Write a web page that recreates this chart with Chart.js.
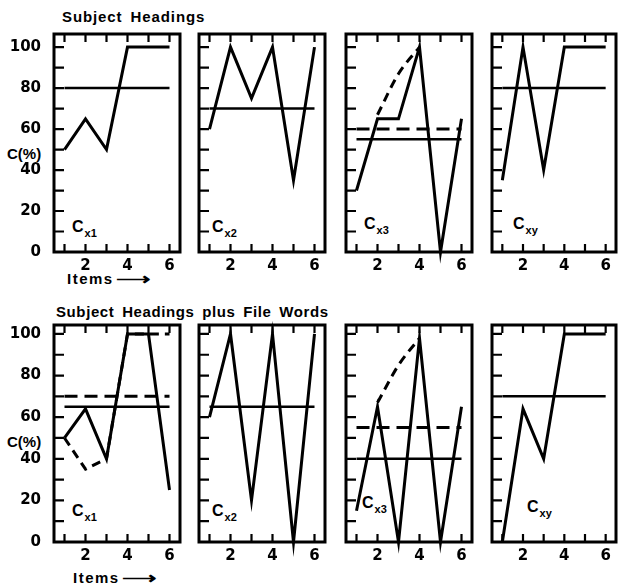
<!DOCTYPE html>
<html><head><meta charset="utf-8">
<script src="https://cdn.jsdelivr.net/npm/chart.js@4.4.0/dist/chart.umd.min.js"></script>
<style>
html,body{margin:0;padding:0;background:#fff;}
body{width:618px;height:585px;position:relative;overflow:hidden;font-family:"Liberation Sans",Arial,sans-serif;font-weight:bold;color:#000;}
.cw{position:absolute;}
.t{position:absolute;white-space:nowrap;font-weight:bold;line-height:1;}
.title{font-size:15px;letter-spacing:0.9px;word-spacing:3px;}
.lab{font-size:16px;}
.lab sub{font-size:11px;vertical-align:-5px;margin-left:1px;}
.cp{font-size:15px;}
.items{font-size:15px;letter-spacing:1.5px;}
.arr{display:inline-block;transform:scaleX(1.5);transform-origin:left center;font-size:16px;margin-left:2px;}
</style></head><body>
<div class="t title" style="left:62px;top:9px">Subject Headings</div>
<div class="t title" style="left:56px;top:304px;letter-spacing:0.6px">Subject Headings plus File Words</div>
<div class="t cp" style="left:7px;top:146px">C(%)</div>
<div class="t cp" style="left:7px;top:434px">C(%)</div>
<div class="t items" style="left:67px;top:271px">Items<span class="arr">⟶</span></div>
<div class="t items" style="left:73px;top:570px">Items<span class="arr">⟶</span></div>

<div class="t lab" style="left:72px;top:219px">C<sub>x1</sub></div>
<div class="t lab" style="left:212px;top:219px">C<sub>x2</sub></div>
<div class="t lab" style="left:364px;top:216px">C<sub>x3</sub></div>
<div class="t lab" style="left:513px;top:216px">C<sub>xy</sub></div>
<div class="t lab" style="left:72px;top:503px">C<sub>x1</sub></div>
<div class="t lab" style="left:212px;top:503px">C<sub>x2</sub></div>
<div class="t lab" style="left:362px;top:495px">C<sub>x3</sub></div>
<div class="t lab" style="left:527px;top:499px">C<sub>xy</sub></div>

<script>
// ---- data ----
const items = [1, 2, 3, 4, 5, 6];
const xTickLabels = [2, 4, 6];
const yTickLabels = [0, 20, 40, 60, 80, 100];
const xMinorTicks = [1, 2, 3, 4, 5, 6];
const yMinorTicks = [10, 20, 30, 40, 50, 60, 70, 80, 90, 100];

// Subject Headings
const shCx1 = [50, 65, 50, 100, 100, 100];
const shCx1Mean = 80;
const shCx2 = [60, 100, 75, 100, 35, 100];
const shCx2Mean = 70;
const shCx3 = [30, 65, 65, 100, 0, 65];
const shCx3Dash = [null, 67, 87, 100, null, null];
const shCx3Mean = 55;
const shCx3DashMean = 60;
const shCxy = [35, 100, 40, 100, 100, 100];
const shCxyMean = 80;

// Subject Headings plus File Words
const fwCx1 = [50, 64, 40, 100, 100, 25];
const fwCx1Dash = [50, 35, 40, 100, 100, 100];
const fwCx1Mean = 65;
const fwCx1DashMean = 70;
const fwCx2 = [60, 100, 20, 100, 0, 100];
const fwCx2Mean = 65;
const fwCx3 = [15, 65, 0, 98, 0, 65];
const fwCx3Dash = [null, 67, 85, 98, null, null];
const fwCx3Mean = 40;
const fwCx3DashMean = 55;
const fwCxy = [0, 64, 40, 100, 100, 100];
const fwCxyMean = 70;

// ---- drawing ----
const frame = {
  id: 'frame',
  afterDraw(chart) {
    const ctx = chart.ctx, a = chart.chartArea;
    const xs = chart.scales.x, ys = chart.scales.y;
    ctx.save();
    ctx.setLineDash([]);
    ctx.strokeStyle = '#000';
    ctx.lineWidth = 2.2;
    ctx.lineCap = 'butt';
    ctx.beginPath();
    for (const v of xMinorTicks) {
      const px = xs.getPixelForValue(v);
      ctx.moveTo(px, a.bottom); ctx.lineTo(px, a.bottom - 8);
      ctx.moveTo(px, a.top); ctx.lineTo(px, a.top + 8);
    }
    for (const v of yMinorTicks) {
      const py = ys.getPixelForValue(v);
      ctx.moveTo(a.left, py); ctx.lineTo(a.left + 10, py);
    }
    ctx.stroke();
    ctx.lineWidth = 3;
    ctx.strokeRect(a.left, a.top, a.right - a.left, a.bottom - a.top);
    ctx.restore();
  }
};

function pts(arr) { return items.map((x, i) => ({x: x, y: arr[i]})); }
function flat(v) { return items.map(x => ({x: x, y: v})); }

function solid(arr) { return {data: pts(arr), borderColor: '#000', borderWidth: 3, pointRadius: 0, tension: 0, clip: false}; }
function dashed(arr, curve) { return {data: pts(arr), borderColor: '#000', borderWidth: 3, borderDash: [9, 6], pointRadius: 0, tension: curve ? 0.4 : 0, cubicInterpolationMode: curve ? 'monotone' : 'default', spanGaps: false, clip: false}; }
function meanLine(v) { return {data: flat(v), borderColor: '#000', borderWidth: 2.5, pointRadius: 0, clip: false}; }
function meanDash(v) { return {data: flat(v), borderColor: '#000', borderWidth: 3, borderDash: [13, 7], pointRadius: 0, clip: false}; }

const tickFont = {family: 'DejaVu Sans', size: 15, weight: 'bold'};

function panel(rect, yMax, showY, datasets) {
  const L = showY ? 52 : 6, T = 6, R = 6, B = 26;
  const div = document.createElement('div');
  div.className = 'cw';
  div.style.left = (rect[0] - L) + 'px';
  div.style.top = (rect[1] - T) + 'px';
  const w = rect[2] - rect[0] + L + R, h = rect[3] - rect[1] + T + B;
  div.style.width = w + 'px'; div.style.height = h + 'px';
  const cv = document.createElement('canvas');
  div.appendChild(cv);
  document.body.appendChild(div);
  new Chart(cv, {
    type: 'line',
    data: {datasets: datasets},
    options: {
      responsive: true, maintainAspectRatio: false, animation: false,
      events: [],
      layout: {padding: {top: T, right: R, left: 0, bottom: 0}},
      plugins: {legend: {display: false}, tooltip: {enabled: false}},
      scales: {
        x: {
          type: 'linear', min: 0.5, max: 6.5,
          grid: {display: false}, border: {display: false},
          afterBuildTicks: s => { s.ticks = xTickLabels.map(v => ({value: v})); },
          afterFit: s => { s.height = B; s.paddingLeft = 0; s.paddingRight = 0; },
          ticks: {color: '#000', padding: -3, maxRotation: 0, font: tickFont}
        },
        y: {
          min: 0, max: yMax,
          grid: {display: false}, border: {display: false},
          afterBuildTicks: s => { s.ticks = yTickLabels.map(v => ({value: v})); },
          afterFit: s => { s.width = L; s.paddingTop = 0; s.paddingBottom = 0; },
          ticks: {display: showY, color: '#000', padding: 5, font: tickFont}
        }
      }
    },
    plugins: [frame]
  });
}

const cols = [[54, 180], [199, 325], [346, 472], [492, 616]];
const topRow = [34, 252], botRow = [325, 542];
const topMax = 106.4, botMax = 104.3;

panel([cols[0][0], topRow[0], cols[0][1], topRow[1]], topMax, true, [solid(shCx1), meanLine(shCx1Mean)]);
panel([cols[1][0], topRow[0], cols[1][1], topRow[1]], topMax, false, [solid(shCx2), meanLine(shCx2Mean)]);
panel([cols[2][0], topRow[0], cols[2][1], topRow[1]], topMax, false, [solid(shCx3), dashed(shCx3Dash, true), meanLine(shCx3Mean), meanDash(shCx3DashMean)]);
panel([cols[3][0], topRow[0], cols[3][1], topRow[1]], topMax, false, [solid(shCxy), meanLine(shCxyMean)]);

panel([cols[0][0], botRow[0], cols[0][1], botRow[1]], botMax, true, [solid(fwCx1), dashed(fwCx1Dash, false), meanLine(fwCx1Mean), meanDash(fwCx1DashMean)]);
panel([cols[1][0], botRow[0], cols[1][1], botRow[1]], botMax, false, [solid(fwCx2), meanLine(fwCx2Mean)]);
panel([cols[2][0], botRow[0], cols[2][1], botRow[1]], botMax, false, [solid(fwCx3), dashed(fwCx3Dash, true), meanLine(fwCx3Mean), meanDash(fwCx3DashMean)]);
panel([cols[3][0], botRow[0], cols[3][1], botRow[1]], botMax, false, [solid(fwCxy), meanLine(fwCxyMean)]);
</script>
</body></html>
